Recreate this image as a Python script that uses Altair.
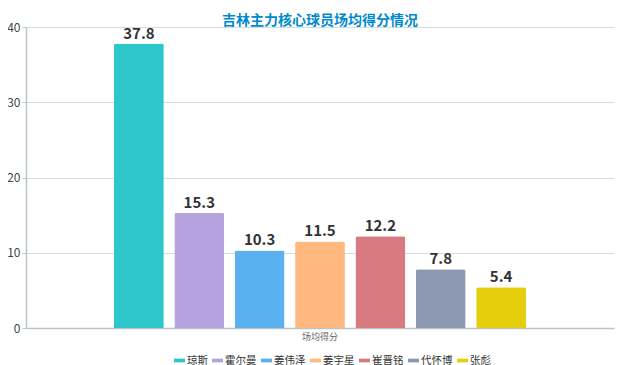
import altair as alt
import pandas as pd

category = "场均得分"
players = ["琼斯", "霍尔曼", "姜伟泽", "姜宇星", "崔晋铭", "代怀博", "张彪"]
scores = [37.8, 15.3, 10.3, 11.5, 12.2, 7.8, 5.4]
colors = ["#2ec7c9", "#b6a2de", "#5ab1ef", "#ffb980", "#d87a80", "#8d98b3", "#e5cf0d"]
y_ticks = [0, 10, 20, 30, 40]

df = pd.DataFrame({"cat": [category] * len(players), "player": players, "score": scores})
FONT = "Noto Sans CJK SC"

xenc = alt.X(
    "cat:N",
    scale=alt.Scale(paddingInner=0, paddingOuter=0.2136),
    axis=alt.Axis(
        title=None, ticks=False, labelFontSize=9, labelColor="#666666",
        labelFont=FONT, labelPadding=4, labelAngle=0,
        domainColor="#b8c6cc", domainWidth=1.5,
    ),
)
xoff = alt.XOffset(
    "player:N", sort=players, scale=alt.Scale(paddingInner=0.175, paddingOuter=0)
)
yenc = alt.Y(
    "score:Q",
    scale=alt.Scale(domain=[0, 40]),
    axis=alt.Axis(
        values=y_ticks, title=None, ticks=True, tickSize=4, tickColor="#b8c6cc",
        labelFontSize=12, labelColor="#444444", labelFont=FONT, labelPadding=2,
        domainColor="#b8c6cc", domainWidth=1.5, gridColor="#d3dde0", gridWidth=1,
    ),
)

bars = alt.Chart(df).mark_bar(cornerRadiusTopLeft=2, cornerRadiusTopRight=2).encode(
    x=xenc,
    xOffset=xoff,
    y=yenc,
    color=alt.Color(
        "player:N",
        sort=players,
        scale=alt.Scale(domain=players, range=colors),
        legend=alt.Legend(
            title=None, orient="none", direction="horizontal",
            legendX=148, legendY=328,
            symbolType="M-1,-0.34L1,-0.34L1,0.34L-1,0.34Z",
            symbolSize=121, symbolStrokeWidth=0, labelFontSize=10.5,
            labelFont=FONT, labelColor="#333333", labelOffset=2,
            columnPadding=4,
        ),
    ),
)

labels = alt.Chart(df).mark_text(
    baseline="bottom", dy=-2, fontSize=15, fontWeight="bold", color="#333333", font=FONT
).encode(
    x=xenc,
    xOffset=xoff,
    y="score:Q",
    text=alt.Text("score:Q", format=".1f"),
)

chart = (bars + labels).properties(
    width=588,
    height=301,
    autosize=alt.AutoSizeParams(type="none"),
    padding={"left": 18, "top": 19, "right": 18, "bottom": 37},
    title=alt.TitleParams(
        "吉林主力核心球员场均得分情况", fontSize=14, fontWeight="bold",
        color="#008acd", font=FONT, anchor="middle", offset=-7,
    ),
).configure_view(stroke=None)

chart.save("out.html", embed_options={"renderer": "svg", "actions": False})
